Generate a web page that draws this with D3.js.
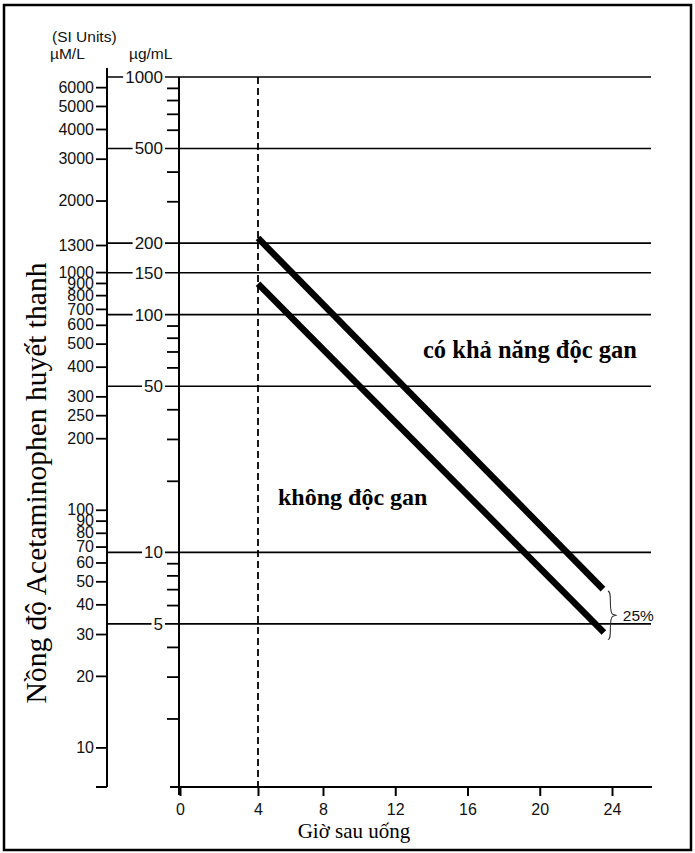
<!DOCTYPE html>
<html>
<head>
<meta charset="utf-8">
<script src="https://cdn.jsdelivr.net/npm/d3@7"></script>
<style>
  html, body { margin: 0; padding: 0; background: #fff; }
  svg { display: block; }
  .sans { font-family: "Liberation Sans", Arial, sans-serif; }
  .serif { font-family: "Liberation Serif", "Times New Roman", serif; }
</style>
</head>
<body>
<svg id="chart" width="695" height="853"></svg>
<script>
// Hours after ingestion shown on the time axis
const hours = [0, 4, 8, 12, 16, 20, 24];
// Serum level lines labelled in µg/mL (drawn across the plot)
const ugMajor = [1000, 500, 200, 150, 100, 50, 10, 5];
// Unlabelled µg/mL ticks
const ugMinor = [900, 800, 700, 600, 400, 300, 90, 80, 70, 60, 40, 30, 20, 9, 8, 7, 6, 4, 3, 2];
// SI scale (µmol/L) tick labels
const umolTicks = [6000, 5000, 4000, 3000, 2000, 1300, 1000, 900, 800, 700, 600, 500, 400, 300, 250, 200,
                   100, 90, 80, 70, 60, 50, 40, 30, 20, 10];
// 1 µg/mL acetaminophen = 6.62 µmol/L
const umolPerUg = 6.62;
// Start of the nomogram (hours)
const startHour = 4;
// Upper (probable hepatotoxicity) line and the line 25% below it
const upperLine = [{ h: 4, v: 210 }, { h: 23.5, v: 7.0 }];
const lowerLine = [{ h: 4, v: 135 }, { h: 23.55, v: 4.6 }];

const svg = d3.select("#chart");

// Frame
svg.append("rect").attr("x", 4).attr("y", 5).attr("width", 687).attr("height", 845)
  .attr("fill", "none").attr("stroke", "#000").attr("stroke-width", 2.5);

const leftAxisX = 107, ugAxisX = 179, plotRight = 651, plotBottom = 787;

const x = d3.scaleLinear().domain([0, 4, 8, 24]).range([180, 258, 323, 612]);
const y = d3.scaleLog().domain([1, 1000]).range([790, 77]);
const yM = d3.scaleLog().domain([umolPerUg, 1000 * umolPerUg]).range(y.range());

// SI axis
svg.append("line").attr("x1", leftAxisX).attr("x2", leftAxisX).attr("y1", 68).attr("y2", plotBottom)
  .attr("stroke", "#000").attr("stroke-width", 2);
svg.append("line").attr("x1", leftAxisX - 11).attr("x2", leftAxisX).attr("y1", plotBottom).attr("y2", plotBottom)
  .attr("stroke", "#000").attr("stroke-width", 2);
const gM = svg.append("g").attr("class", "sans").attr("transform", `translate(${leftAxisX},0)`)
  .call(d3.axisLeft(yM).tickValues(umolTicks).tickSize(11).tickPadding(2).tickFormat(d3.format("d")));
gM.select(".domain").remove();
gM.selectAll(".tick line").attr("stroke-width", 1.8);
gM.selectAll("text").attr("font-size", 16).attr("font-family", null).attr("fill", "#111");

// µg/mL axis
svg.append("line").attr("x1", ugAxisX).attr("x2", ugAxisX).attr("y1", y(1000)).attr("y2", plotBottom + 8)
  .attr("stroke", "#000").attr("stroke-width", 2);
const gU = svg.append("g").attr("transform", `translate(${ugAxisX},0)`)
  .call(d3.axisLeft(y).tickValues(ugMinor).tickSize(12).tickFormat(""));
gU.select(".domain").remove();
gU.selectAll(".tick line").attr("stroke-width", 1.8);

// Labelled level lines
const major = svg.append("g").attr("class", "sans");
ugMajor.forEach(v => {
  major.append("line").attr("x1", leftAxisX).attr("x2", plotRight).attr("y1", y(v)).attr("y2", y(v))
    .attr("stroke", "#000").attr("stroke-width", 1.6);
  const bg = major.append("rect").attr("fill", "#fff");
  const t = major.append("text").attr("x", ugAxisX - 16).attr("y", y(v)).attr("dy", "0.35em")
    .attr("text-anchor", "end").attr("font-size", 17).attr("fill", "#111").text(v);
  const b = t.node().getBBox();
  bg.attr("x", b.x - 2).attr("y", b.y + 2).attr("width", b.width + 4).attr("height", b.height - 4);
});

// 4-hour line
svg.append("line").attr("x1", x(startHour)).attr("x2", x(startHour)).attr("y1", y(1000)).attr("y2", plotBottom)
  .attr("stroke", "#000").attr("stroke-width", 1.8).attr("stroke-dasharray", "7,4");

// Time axis
svg.append("line").attr("x1", 170).attr("x2", plotRight + 1).attr("y1", plotBottom).attr("y2", plotBottom)
  .attr("stroke", "#000").attr("stroke-width", 2);
const gX = svg.append("g").attr("class", "sans").attr("transform", `translate(0,${plotBottom})`)
  .call(d3.axisBottom(x).tickValues(hours).tickSize(9).tickPadding(8).tickFormat(d3.format("d")));
gX.select(".domain").remove();
gX.selectAll(".tick line").attr("stroke-width", 2);
gX.selectAll("text").attr("font-size", 16).attr("font-family", null).attr("fill", "#111");

// Nomogram lines
const lineGen = d3.line().x(d => x(d.h)).y(d => y(d.v));
[upperLine, lowerLine].forEach(data => {
  svg.append("path").attr("d", lineGen(data)).attr("fill", "none")
    .attr("stroke", "#000").attr("stroke-width", 6.5).attr("stroke-linecap", "butt");
});

// Brace between the two line ends
const bx = x(lowerLine[1].h) + 4;
const by1 = y(upperLine[1].v) + 2, by2 = y(lowerLine[1].v) + 7;
const bm = (by1 + by2) / 2, w = 5;
svg.append("path")
  .attr("d", `M${bx},${by1} C${bx + w},${by1} ${bx},${bm - 3} ${bx + w},${bm - 1}`
    + ` L${bx + w + 3},${bm} L${bx + w},${bm + 1}`
    + ` C${bx},${bm + 3} ${bx + w},${by2} ${bx},${by2}`)
  .attr("fill", "none").attr("stroke", "#333").attr("stroke-width", 1.1);
svg.append("text").attr("class", "sans").attr("x", bx + 15).attr("y", bm).attr("dy", "0.35em")
  .attr("font-size", 15.5).attr("fill", "#111").text("25%");

// Unit headings
const heads = svg.append("g").attr("class", "sans").attr("font-size", 15.5).attr("fill", "#111");
heads.append("text").attr("x", 52).attr("y", 42).text("(SI Units)");
heads.append("text").attr("x", 50).attr("y", 59).text("µM/L");
heads.append("text").attr("x", 129).attr("y", 59).text("µg/mL");

// Region labels
svg.append("text").attr("class", "serif").attr("x", 423).attr("y", 358).attr("font-size", 24.5)
  .attr("font-weight", "bold").text("có khả năng độc gan");
svg.append("text").attr("class", "serif").attr("x", 278).attr("y", 505).attr("font-size", 24)
  .attr("font-weight", "bold").text("không độc gan");

// Axis titles
svg.append("text").attr("class", "serif").attr("x", 354).attr("y", 838).attr("text-anchor", "middle")
  .attr("font-size", 21).text("Giờ sau uống");
svg.append("text").attr("class", "serif").attr("transform", "translate(46,483) rotate(-90)")
  .attr("text-anchor", "middle").attr("font-size", 29.5).text("Nồng độ Acetaminophen huyết thanh");
</script>
</body>
</html>
